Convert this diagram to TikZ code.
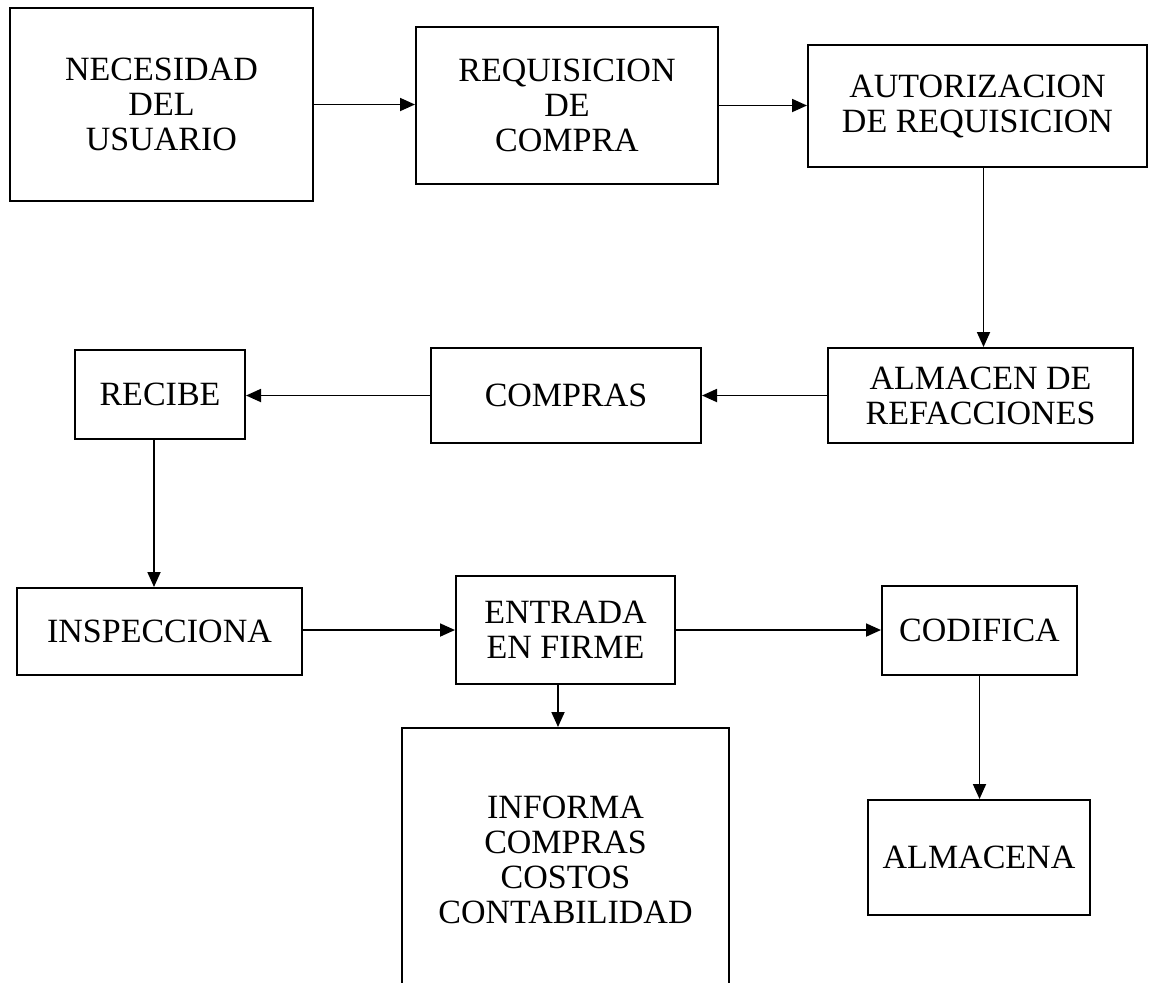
\documentclass[tikz,border=0pt]{standalone}
\usepackage{fontspec}
\setmainfont{Liberation Serif}
\usetikzlibrary{arrows.meta}
\begin{document}
\begin{tikzpicture}[x=0.5pt,y=-0.5pt,
  box/.style={draw, line width=1pt, inner sep=0pt, align=center,
    font=\fontsize{17}{17.5}\selectfont},
  arr/.style={line width=0.9pt, -{Triangle[length=7.5pt,width=6.5pt]}}]
\useasboundingbox (0,0) rectangle (1149,982);
\clip (0,0) rectangle (1149,982);
\fill[white] (0,0) rectangle (1149,982);
% row 1
\node[box, minimum width=151.5pt, minimum height=96.5pt] (nec) at (161.5,104.5) {NECESIDAD\\DEL\\USUARIO};
\node[box, minimum width=151pt, minimum height=78.5pt] (req) at (567,105.5) {REQUISICION\\DE\\COMPRA};
\node[box, minimum width=169.5pt, minimum height=61pt] (aut) at (977.5,106) {AUTORIZACION\\DE REQUISICION};
% row 2
\node[box, minimum width=152.5pt, minimum height=47.5pt] (alm) at (980.5,395.5) {ALMACEN DE\\REFACCIONES};
\node[box, minimum width=135pt, minimum height=47.5pt] (com) at (566,395.5) {COMPRAS};
\node[box, minimum width=85pt, minimum height=44.5pt] (rec) at (160,394.5) {RECIBE};
% row 3
\node[box, minimum width=142.5pt, minimum height=43.5pt] (ins) at (159.5,631.5) {INSPECCIONA};
\node[box, minimum width=109.5pt, minimum height=54pt] (ent) at (565.5,630) {ENTRADA\\EN FIRME};
\node[box, minimum width=97.5pt, minimum height=44.5pt] (cod) at (979.5,630.5) {CODIFICA};
% row 4
\node[box, minimum width=163.5pt, minimum height=132pt] (inf) at (565.5,860) {INFORMA\\COMPRAS\\COSTOS\\CONTABILIDAD};
\node[box, minimum width=111pt, minimum height=57.5pt] (alma) at (979,857.5) {ALMACENA};
% connectors
\draw[arr] (nec.east) -- (nec.east -| req.west);
\draw[arr] (req.east) -- (req.east -| aut.west);
\draw[arr] ([xshift=1.5pt]alm.north |- aut.south) -- ([xshift=1.5pt]alm.north);
\draw[arr] (alm.west) -- (alm.west -| com.east);
\draw[arr] (com.west) -- (com.west -| rec.east);
\draw[arr] ([xshift=-3pt]rec.south) -- ([xshift=-3pt]rec.south |- ins.north);
\draw[arr] (ins.east |- ent.west) -- (ent.west);
\draw[arr] (ent.east) -- (ent.east -| cod.west);
\draw[arr] ([xshift=-3.75pt]ent.south) -- ([xshift=-3.75pt]ent.south |- inf.north);
\draw[arr] (cod.south) -- (cod.south |- alma.north);
\end{tikzpicture}
\end{document}
